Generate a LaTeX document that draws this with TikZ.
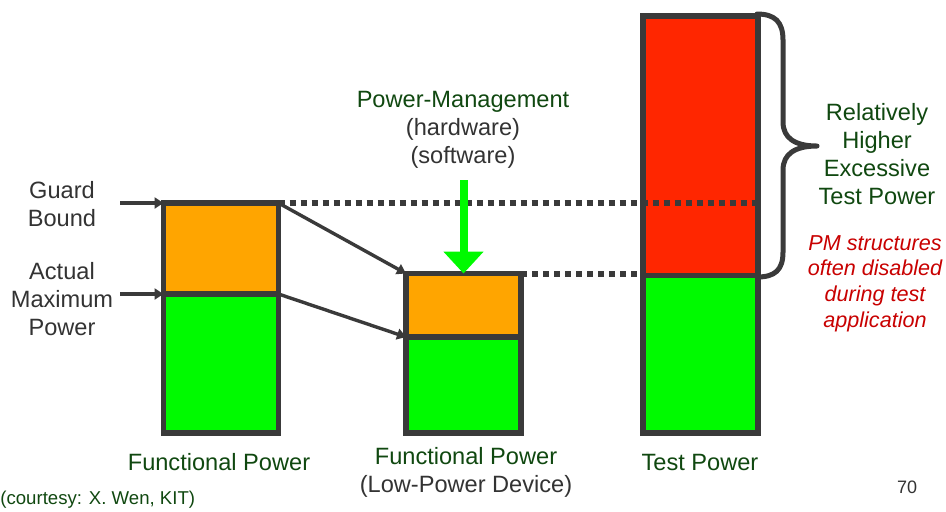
\documentclass[tikz,border=0pt]{standalone}
\usepackage{fontspec}
\setmainfont{Liberation Sans}
\usetikzlibrary{arrows.meta}
\definecolor{barline}{RGB}{58,58,58}
\definecolor{guardorange}{RGB}{255,165,0}
\definecolor{safegreen}{RGB}{0,250,0}
\definecolor{testred}{RGB}{255,38,0}
\definecolor{textgray}{RGB}{51,51,51}
\definecolor{labelgreen}{RGB}{16,72,16}
\definecolor{notered}{RGB}{200,0,0}

\begin{document}
\begin{tikzpicture}[x=0.5pt,y=-0.5pt,
  font=\fontsize{11.8}{14}\selectfont,
  seg/.style={rectangle,draw=barline,line width=2.75pt,minimum width=57.5pt,inner sep=0pt,outer sep=0pt},
  sidetext/.style={align=center,text=textgray,inner sep=0pt},
  greentext/.style={align=center,text=labelgreen,inner sep=0pt},
  pointer/.style={-{Triangle[length=4.5pt,width=5.5pt]},draw=barline,line width=1.7pt},
  pmarrow/.style={-{Triangle[length=11pt,width=19.5pt]},draw=safegreen,line width=4pt},
  dotline/.style={draw=barline,line width=3pt,dash pattern=on 3pt off 2.5pt}
]
\useasboundingbox (0,0) rectangle (946,511);

% bars
\node[seg,fill=safegreen,minimum height=69.5pt] (f1) at (221,363.5) {};
\node[seg,fill=guardorange,minimum height=45.5pt] (g1) at (221,248.5) {};
\node[seg,fill=safegreen,minimum height=48pt] (f2) at (463.5,385) {};
\node[seg,fill=guardorange,minimum height=31.75pt] (g2) at (463.5,305.25) {};
\node[seg,fill=safegreen,minimum height=78.75pt] (f3) at (700.5,354.25) {};
\node[seg,fill=testred,minimum height=129.75pt] (r3) at (700.5,145.75) {};

% dotted levels
\draw[dotline] (g1.north east) -- (g1.north east -| r3.east);
\draw[dotline] (g2.north east) -- (g2.north east -| r3.west);

% left labels
\node[sidetext] (lblguard) at (62,204) {Guard\\Bound};
\node[sidetext] (lblactual) at (62,299) {Actual\\Maximum\\Power};
\coordinate (guardin) at (120,203);
\coordinate (actualin) at (120,294);
\draw[pointer] (guardin) -- (g1.north west);
\draw[pointer] (actualin) -- (g1.south west);
\draw[pointer] (g1.north east) -- (g2.north west);
\draw[pointer] (g1.south east) -- (g2.south west);

% power management
\node[sidetext] (lblpm) at (463,130) {\textcolor{labelgreen}{Power-Management}\\(hardware)\\(software)};
\coordinate (pmin) at (463.5,180);
\draw[pmarrow] (pmin) -- (g2.north);

% brace
\draw[barline,line width=2.5pt,line cap=round,line join=round]
  (757,14) .. controls (775,14) and (783,22) .. (783,40) -- (783,122)
  .. controls (783,138) and (795,146) .. (817,146)
  .. controls (795,146) and (783,154) .. (783,170) -- (783,252)
  .. controls (783,270) and (775,277) .. (757,277);
\node[greentext] (lblexcess) at (877,154) {Relatively\\Higher\\Excessive\\Test Power};
\node[align=center,text=notered,inner sep=0pt,font=\fontsize{10.8}{12.9}\selectfont\itshape] (lblpmoff) at (875,283.5) {PM structures\\often disabled\\during test\\application};

% captions
\node[greentext] (capfunc) at (219,462) {Functional Power};
\node[greentext] (caplow) at (466,472) {Functional Power\\\textcolor{textgray}{(Low-Power Device)}};
\node[greentext] (captest) at (700,462) {Test Power};
\node[greentext,anchor=west,font=\fontsize{9.3}{11}\selectfont] (courtesy) at (0,500) {(courtesy: X. Wen, KIT)};
\node[sidetext,font=\fontsize{9}{11}\selectfont] (pagenum) at (907,487) {70};
\end{tikzpicture}
\end{document}
